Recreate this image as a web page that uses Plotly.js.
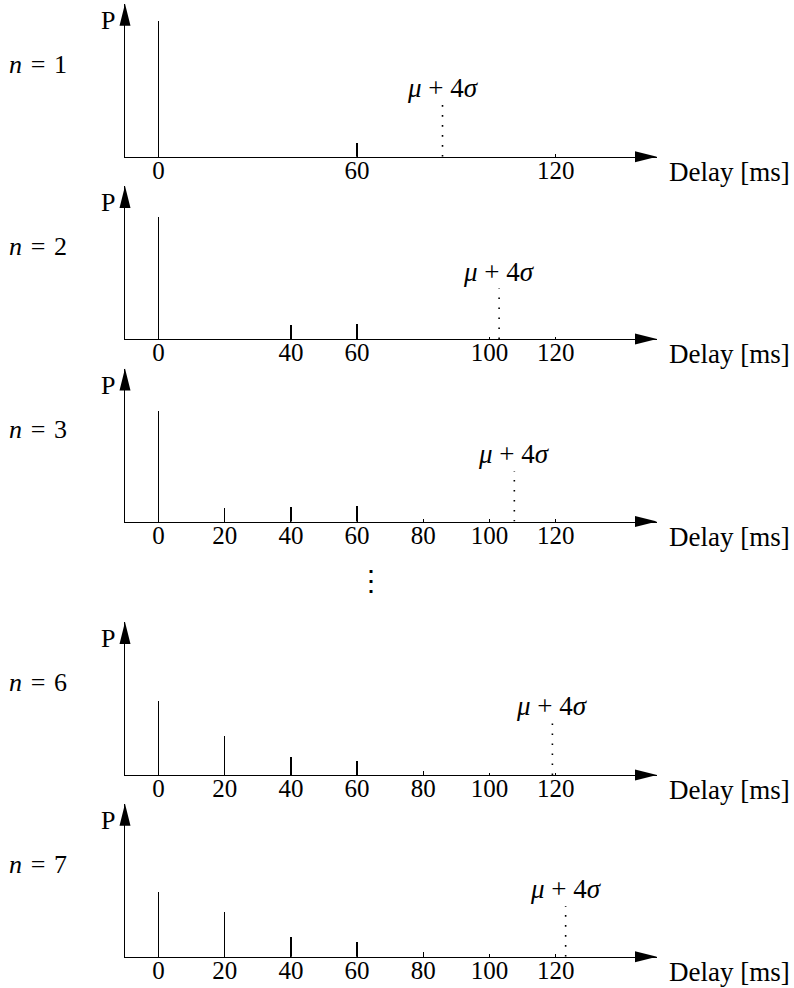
<!DOCTYPE html>
<html>
<head>
<meta charset="utf-8">
<script src="https://cdn.plot.ly/plotly-3.0.1.min.js"></script>
<style>html,body{margin:0;padding:0;background:#fff}</style>
</head>
<body>
<div id="chart" style="width:794px;height:988px"></div>
<script>
// ---- data ----
const panelLabels = ["1", "2", "3", "6", "7"];
const delays1 = [0, 60];
const probs1 = [0.889, 0.092];
const delays2 = [0, 40, 60];
const probs2 = [0.797, 0.092, 0.095];
const delays3 = [0, 20, 40, 60];
const probs3 = [0.719, 0.087, 0.096, 0.103];
const delays6 = [0, 20, 40, 60, 80];
const probs6 = [0.486, 0.257, 0.116, 0.093, 0.026];
const delays7 = [0, 20, 40, 60, 80];
const probs7 = [0.420, 0.292, 0.131, 0.093, 0.031];
const muPlus4Sigma = [85.8, 102.9, 107.5, 119.0, 123.0];
const sigmaLineHeight = [0.338, 0.330, 0.330, 0.340, 0.331];
const tickVals1 = [0, 60, 120];
const tickVals2 = [0, 40, 60, 100, 120];
const tickVals3 = [0, 20, 40, 60, 80, 100, 120];
const tickVals6 = [0, 20, 40, 60, 80, 100, 120];
const tickVals7 = [0, 20, 40, 60, 80, 100, 120];
const xLabel = "Delay [ms]";
const yLabel = "P";
const muLabel = "<i>μ</i> + 4<i>σ</i>";

const delays = [delays1, delays2, delays3, delays6, delays7];
const probs = [probs1, probs2, probs3, probs6, probs7];
const tickVals = [tickVals1, tickVals2, tickVals3, tickVals6, tickVals7];

// ---- layout geometry (pixels) ----
const W = 794, H = 988;
const baselinePx = [156.7, 339, 521.5, 775, 956.7];
const plotH = 153;
const xLeftPx = 125, xRightPx = 657;
const FONT = "Liberation Serif";
const FS = 25;

const traces = [];
const layout = {
  width: W, height: H,
  margin: {l: 0, r: 0, t: 0, b: 0},
  paper_bgcolor: "#fff", plot_bgcolor: "rgba(0,0,0,0)",
  showlegend: false,
  font: {family: FONT, size: FS, color: "#000"},
  shapes: [], annotations: [],
  bargap: 0
};

const xDomain = [xLeftPx / W, xRightPx / W];
const xRange = [-10.12, 150.6];
const SP = "\u2004";

for (let i = 0; i < 5; i++) {
  const k = i + 1;
  const xa = k === 1 ? "x" : "x" + k;
  const ya = k === 1 ? "y" : "y" + k;
  const xKey = k === 1 ? "xaxis" : "xaxis" + k;
  const yKey = k === 1 ? "yaxis" : "yaxis" + k;
  const yb = baselinePx[i];
  const yDomain = [1 - yb / H, 1 - (yb - plotH) / H];

  layout[xKey] = {
    domain: xDomain, range: xRange, anchor: ya,
    showline: true, linecolor: "#000", linewidth: 1.4,
    showgrid: false, zeroline: false,
    ticks: "inside", ticklen: 2.5, tickwidth: 1, tickcolor: "#000",
    tickmode: "array", tickvals: tickVals[i], ticktext: tickVals[i].map(String),
    tickfont: {family: FONT, size: FS, color: "#000"},
    ticklabelstandoff: -9,
    fixedrange: true
  };
  layout[yKey] = {
    domain: yDomain, range: [0, 1], anchor: xa,
    showline: true, linecolor: "#000", linewidth: 1.4,
    showgrid: false, zeroline: false, showticklabels: false, ticks: "",
    fixedrange: true
  };

  // stems
  traces.push({
    type: "bar", x: delays[i], y: probs[i], xaxis: xa, yaxis: ya,
    width: 0.42, marker: {color: "#000", line: {width: 0}},
    hoverinfo: "skip"
  });
  // mu + 4 sigma dotted marker
  traces.push({
    type: "scatter", mode: "lines", xaxis: xa, yaxis: ya,
    x: [muPlus4Sigma[i], muPlus4Sigma[i]], y: [0, sigmaLineHeight[i]],
    line: {color: "#000", width: 1.6, dash: "1.6px,8.4px"},
    hoverinfo: "skip"
  });

  // arrowheads
  layout.shapes.push({
    type: "path", xref: xa + " domain", yref: ya + " domain",
    xsizemode: "pixel", ysizemode: "pixel", xanchor: 1, yanchor: 0,
    path: "M 0 0 L -22 5.5 L -22 -5.5 Z",
    fillcolor: "#000", line: {width: 0}
  });
  layout.shapes.push({
    type: "path", xref: xa + " domain", yref: ya + " domain",
    xsizemode: "pixel", ysizemode: "pixel", xanchor: 0, yanchor: 1,
    path: "M 0 0 L -5.5 -22 L 5.5 -22 Z",
    fillcolor: "#000", line: {width: 0}
  });

  // labels
  layout.annotations.push({
    xref: "paper", yref: "paper", x: 7 / W, y: 1 - (yb - 92.5) / H,
    xanchor: "left", yanchor: "middle", showarrow: false,
    text: "<i>n</i>" + SP + "=" + SP + panelLabels[i],
    font: {family: FONT, size: 26, color: "#000"}
  });
  layout.annotations.push({
    xref: "paper", yref: "paper", x: 117 / W, y: 1 - (yb - plotH + 16.7) / H,
    xanchor: "right", yanchor: "middle", showarrow: false,
    text: yLabel, font: {family: FONT, size: 26, color: "#000"}
  });
  layout.annotations.push({
    xref: "paper", yref: "paper", x: 667 / W, y: 1 - (yb + 15) / H,
    xanchor: "left", yanchor: "middle", showarrow: false,
    text: xLabel, font: {family: FONT, size: 27, color: "#000"}
  });
  layout.annotations.push({
    xref: xa, yref: ya, x: muPlus4Sigma[i], y: sigmaLineHeight[i],
    xanchor: "center", yanchor: "bottom", showarrow: false,
    text: muLabel, font: {family: FONT, size: 27, color: "#000"}
  });
}

// vertical ellipsis between panels 3 and 6
layout.annotations.push({
  xref: "paper", yref: "paper", x: 370.7 / W, y: 1 - 580 / H,
  xanchor: "center", yanchor: "middle", showarrow: false,
  text: "⋮", font: {family: "DejaVu Serif", size: 28, color: "#000"}
});

Plotly.newPlot("chart", traces, layout, {staticPlot: true, displayModeBar: false});
</script>
</body>
</html>
